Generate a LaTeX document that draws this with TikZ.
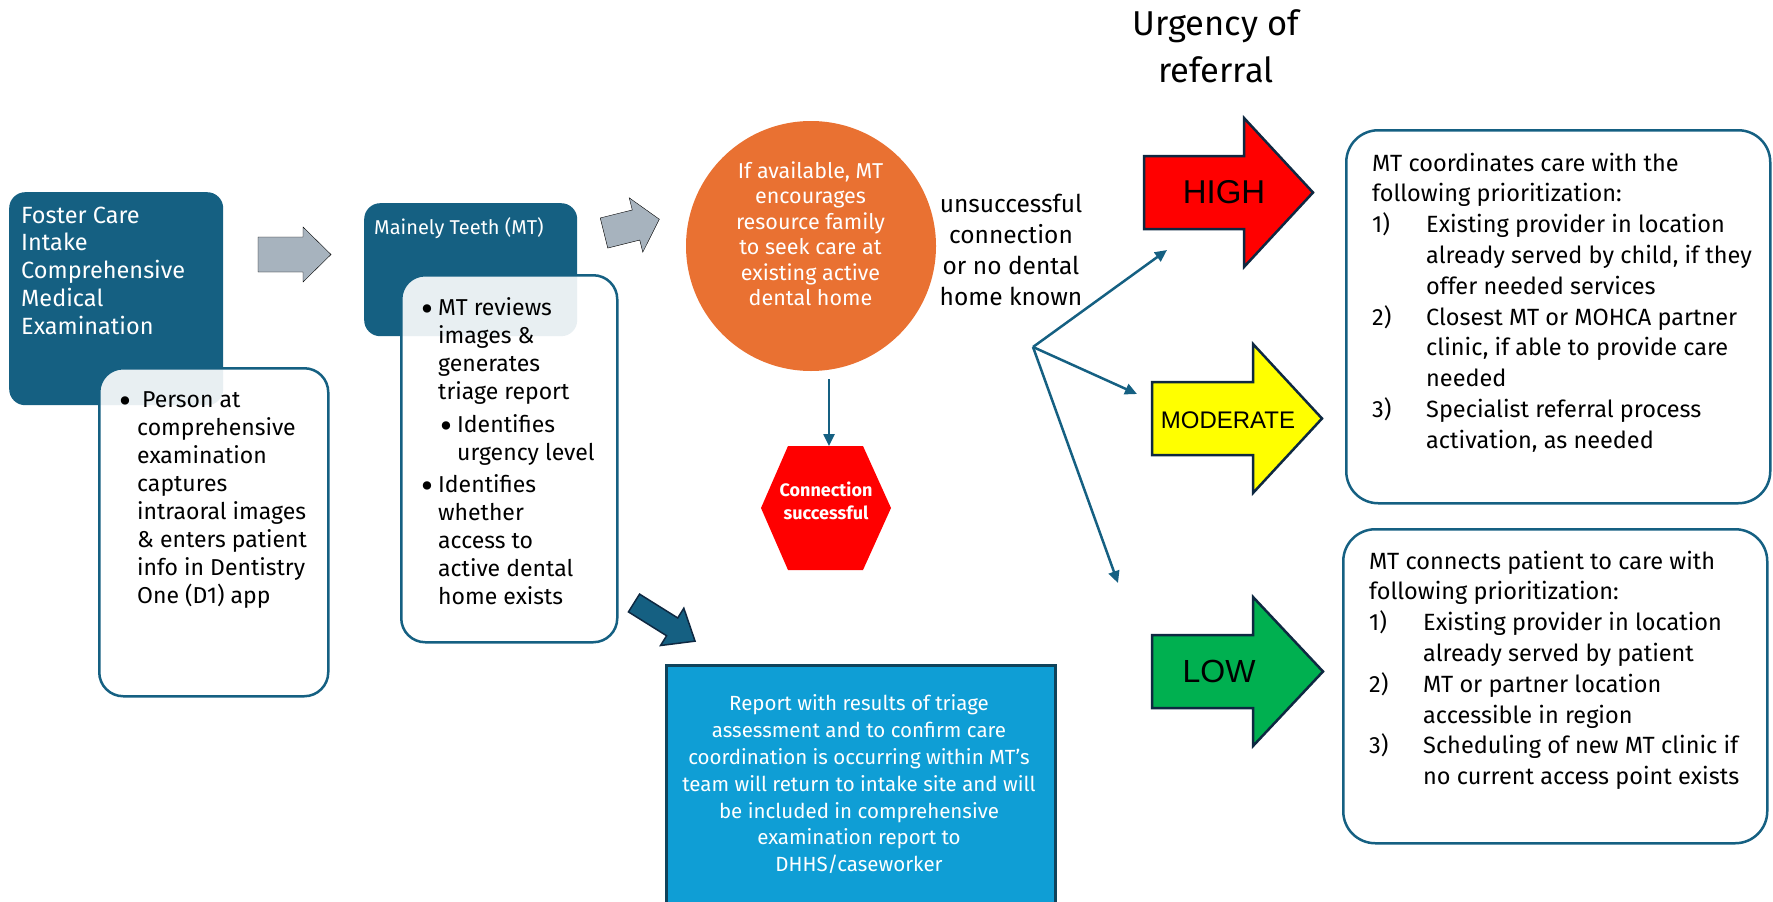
\documentclass[tikz,border=0pt]{standalone}
\usepackage{fontspec}
\setmainfont{Fira Sans}
\newfontfamily\levelfont{Liberation Sans}
\usetikzlibrary{arrows.meta}
\definecolor{mtteal}{HTML}{156082}
\definecolor{mtgray}{HTML}{A7B3BE}
\definecolor{mtorange}{HTML}{E97132}
\definecolor{mtblue}{HTML}{0F9ED5}
\definecolor{mtnavy}{HTML}{0E2841}
\definecolor{mtred}{HTML}{FF0000}
\definecolor{mtyellow}{HTML}{FFFF00}
\definecolor{mtgreen}{HTML}{00B050}
% block arrow: [style](tail)(angle:length:shaft half:head half:head length)
\def\blockarrow[#1](#2)(#3:#4:#5:#6:#7){\draw[#1, shift={(#2)}, rotate=#3] (0,-#5) -- ({#4-#7},-#5) -- ({#4-#7},-#6) -- (#4,0) -- ({#4-#7},#6) -- ({#4-#7},#5) -- (0,#5) -- cycle;}
\newcommand{\bigbullet}{\raisebox{-0.5ex}{\scalebox{1.6}{\textbullet}}}

\begin{document}
\begin{tikzpicture}[x=1pt, y=-1pt,
  tealbox/.style={fill=mtteal, rounded corners=16pt, inner sep=0pt, anchor=north west},
  infobox/.style={draw=mtteal, line width=2.5pt, fill=white, fill opacity=0.9, rounded corners=24pt, inner sep=0pt, anchor=north west},
  carebox/.style={draw=mtteal, line width=2.5pt, rounded corners=32pt, inner sep=0pt, anchor=north west},
  txt/.style={inner sep=0pt, anchor=north west, align=left},
  flowarrow/.style={draw=mtteal, line width=2.5pt, -{Triangle[length=12pt,width=11pt]}},
  urgent/.style={draw=mtnavy, line width=2.5pt},
  level/.style={inner sep=0pt, font={\levelfont\fontsize{#1}{#1}\selectfont}}]
			%%%%% START %%%%%
			\useasboundingbox (0,0) rectangle (1773,902);
			\clip (0,0) rectangle (1773,902);
			
			% intake
			\node[tealbox, minimum width=214pt, minimum height=213pt] (foster) at (9,192) {};
			\node[txt, text=white, font={\fontsize{23.5}{27.75}\selectfont}] (fostertitle) at (21,203.6) {\strut Foster Care\\Intake\\Comprehensive\\Medical\\Examination};
			\node[infobox, minimum width=229pt, minimum height=328pt] (fosterinfo) at (98,367) {};
			\node[txt, font={\fontsize{23}{28}\selectfont}] (fostertext) at (137,387.4) {\strut\llap{\makebox[18pt][l]{\bigbullet}}\hspace*{5pt}Person at\\comprehensive\\examination\\captures\\intraoral images\\\& enters patient\\info in Dentistry\\One (D1) app};
			
			\blockarrow[fill=mtgray](258,254.5)(0:73:17.5:27.5:28)
			
			% triage
			\node[tealbox, minimum width=213pt, minimum height=133pt] (mt) at (364,203) {};
			\node[txt, text=white, font={\fontsize{20}{24}\selectfont}] (mttitle) at (374,217.2) {\strut Mainely Teeth (MT)};
			\node[infobox, minimum width=216pt, minimum height=367pt] (mtinfo) at (400,274) {};
			\node[txt, font={\fontsize{23}{28}\selectfont}] (mttext) at (438,295.4) {\strut\llap{\makebox[17pt][l]{\bigbullet}}MT reviews\\images \&\\generates\\triage report\\[5pt]
				\hspace*{19pt}\llap{\makebox[17pt][l]{\bigbullet}}Identifies\\\hspace*{19pt}urgency level\\[4pt]
				\llap{\makebox[17pt][l]{\bigbullet}}Identifies\\whether\\access to\\active dental\\home exists};
			
			\blockarrow[fill=mtgray](604,233)(14:57:15.5:28:24)
			
			% dental home
			\node[circle, fill=mtorange, minimum size=250pt, inner sep=0pt] (dental) at (811,246) {};
			\node[txt, anchor=north, align=center, text=white, font={\fontsize{21.5}{25.4}\selectfont}] (dentaltext) at (810.5,160.5) {\strut If available, MT\\encourages\\resource family\\to seek care at\\existing active\\dental home};
			
			\fill[mtred] (761,508) -- (788,446) -- (863,446) -- (891,508) -- (863,570) -- (788,570) -- cycle;
			\node[txt, anchor=north, align=center, text=white, font={\bfseries\fontsize{18}{23}\selectfont}] (linked) at (826,480.6) {\strut Connection\\successful};
			\coordinate (circlegap) at (829,379);
			\coordinate (linktop) at (829,446);
			\draw[flowarrow] (circlegap) -- (linktop);
			
			% report back
			\blockarrow[fill=mtteal, draw=mtnavy, line width=1.5pt](634,603)(-32:72:10.5:22:27)
			\node[draw=mtteal!70!black, line width=2.5pt, fill=mtblue, minimum width=389pt, minimum height=260pt, anchor=north west, inner sep=0pt] (report) at (665,664) {};
			\node[txt, anchor=north, align=center, text=white, font={\fontsize{20.5}{26.8}\selectfont}] (reporttext) at (859,691.9) {\strut Report with results of triage\\assessment and to confirm care\\coordination is occurring within MT’s\\team will return to intake site and will\\be included in comprehensive\\examination report to\\DHHS/caseworker};
			
			% referral
			\node[txt, anchor=north, align=center, font={\fontsize{24.5}{31}\selectfont}] (nohome) at (1011,190.8) {\strut unsuccessful\\connection\\or no dental\\home known};
			\node[txt, anchor=north, align=center, font={\fontsize{34.5}{47}\selectfont}] (urgency) at (1216,2.1) {\strut Urgency of\\referral};
			
			\coordinate (split) at (1033,347);
			\coordinate (tohigh) at (1167,250);
			\coordinate (tomoderate) at (1137,394);
			\coordinate (tolow) at (1118,583);
			\draw[flowarrow] (split) -- (tohigh);
			\draw[flowarrow] (split) -- (tomoderate);
			\draw[flowarrow] (split) -- (tolow);
			
			\blockarrow[urgent, fill=mtred](1144,192.5)(0:169:36.5:74.5:69)
			\node[level=33] (high) at (1224,192.5) {HIGH};
			\blockarrow[urgent, fill=mtyellow](1152,418.5)(0:170:36.5:74.5:69)
			\node[level=24] (moderate) at (1228,420) {MODERATE};
			\blockarrow[urgent, fill=mtgreen](1152,671.5)(0:171:36.5:74.5:70)
			\node[level=32] (low) at (1219,671) {LOW};
			
			\node[carebox, minimum width=424pt, minimum height=373pt] (highcare) at (1345,129) {};
			\node[txt, font={\fontsize{23.5}{30.8}\selectfont}] (highcaretext) at (1372,149.4) {\strut MT coordinates care with the\\following prioritization:\\
				\makebox[54pt][l]{1)}Existing provider in location\\\hspace*{54pt}already served by child, if they\\\hspace*{54pt}offer needed services\\
				\makebox[54pt][l]{2)}Closest MT or MOHCA partner\\\hspace*{54pt}clinic, if able to provide care\\\hspace*{54pt}needed\\
				\makebox[54pt][l]{3)}Specialist referral process\\\hspace*{54pt}activation, as needed};
			
			\node[carebox, minimum width=424pt, minimum height=314pt] (lowcare) at (1342,528) {};
			\node[txt, font={\fontsize{23.5}{30.8}\selectfont}] (lowcaretext) at (1369,547.4) {\strut MT connects patient to care with\\following prioritization:\\
				\makebox[54pt][l]{1)}Existing provider in location\\\hspace*{54pt}already served by patient\\
				\makebox[54pt][l]{2)}MT or partner location\\\hspace*{54pt}accessible in region\\
				\makebox[54pt][l]{3)}Scheduling of new MT clinic if\\\hspace*{54pt}no current access point exists};
			
			%%%%% END %%%%%
\end{tikzpicture}
\end{document}
